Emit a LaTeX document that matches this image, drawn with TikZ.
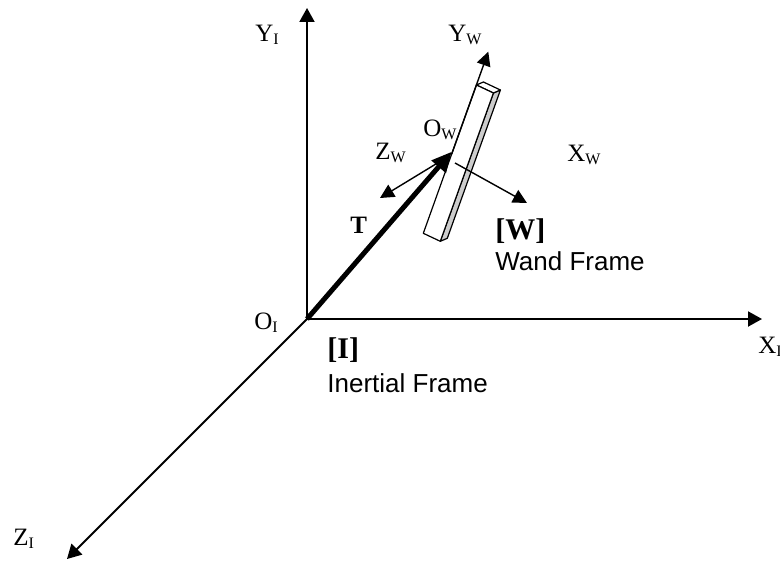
\documentclass[tikz,border=0pt]{standalone}
\usepackage{fontspec}
\setmainfont{Liberation Serif}
\newfontfamily\framefont{Liberation Sans}
\usetikzlibrary{arrows.meta}

\newcommand{\lowsub}[1]{\raisebox{-1.5pt}{\fontsize{8}{8}\selectfont #1}}

\begin{document}
\begin{tikzpicture}[x=0.5pt, y=-0.5pt,
    axis/.style={line width=1pt, -{Triangle[length=7pt,width=7.5pt]}},
    wandaxis/.style={line width=0.7pt, -{Triangle[length=7pt,width=7pt]}},
    wandface/.style={draw, line width=0.6pt, line join=round},
    lbl/.style={inner sep=0pt, anchor=base west, font=\fontsize{12.5}{14}\selectfont},
    frametag/.style={inner sep=0pt, anchor=base west, font=\fontsize{15}{17}\selectfont\bfseries},
    framename/.style={inner sep=0pt, anchor=base west, font=\fontsize{13}{15}\selectfont\framefont}]
  \useasboundingbox (0,0) rectangle (780,561);

  % inertial frame
  \coordinate (OI) at (307,319);
  \coordinate (YI) at (307,8);
  \coordinate (XI) at (762,319);
  \coordinate (ZI) at (67,559);
  \draw[axis] (OI) -- (YI);
  \draw[axis] (OI) -- (XI);
  \draw[axis] (OI) -- (ZI);

  % the wand
  \coordinate (wD) at (423.3,233.3);
  \coordinate (wA) at (476.4,85);
  \coordinate (wB) at (493.4,93);
  \coordinate (wC) at (440.3,241.3);
  \coordinate (wAb) at (483.4,82);
  \coordinate (wBb) at (500.4,90);
  \coordinate (wCb) at (447.3,238.3);
  \draw[wandface, fill=gray!40] (wB) -- (wBb) -- (wCb) -- (wC) -- cycle;
  \draw[wandface, fill=white] (wA) -- (wAb) -- (wBb) -- (wB) -- cycle;
  \draw[wandface, fill=white] (wD) -- (wA) -- (wB) -- (wC) -- cycle;

  % wand frame
  \coordinate (OW) at (451.7,151.7);
  \coordinate (ywstart) at (451.7,154);
  \coordinate (YW) at (488.3,51.7);
  \coordinate (zwstart) at (449,156);
  \coordinate (ZW) at (380,198);
  \coordinate (xwstart) at (455,163);
  \coordinate (XW) at (527,203);
  \draw[line width=2.5pt, -{Triangle[length=10pt,width=9pt]}] (OI) -- (OW);
  \draw[wandaxis] (ywstart) -- (YW);
  \draw[wandaxis] (zwstart) -- (ZW);
  \draw[wandaxis] (xwstart) -- (XW);

  % labels
  \node[lbl] (yilabel) at (255,42) {Y\lowsub{I}};
  \node[lbl] (oilabel) at (254,329) {O\lowsub{I}};
  \node[lbl] (xilabel) at (758,353) {X\lowsub{I}};
  \node[lbl] (zilabel) at (13,545) {Z\lowsub{I}};
  \node[lbl] (ywlabel) at (448,42) {Y\lowsub{W}};
  \node[lbl] (owlabel) at (423,137) {O\lowsub{W}};
  \node[lbl] (zwlabel) at (375,160) {Z\lowsub{W}};
  \node[lbl] (xwlabel) at (567,162) {X\lowsub{W}};
  \node[lbl, font=\fontsize{12.5}{14}\selectfont\bfseries] (tlabel) at (350,233) {T};

  \node[frametag] (wtag) at (495,239) {[W]};
  \node[framename] (wname) at (495,270) {Wand Frame};
  \node[frametag] (itag) at (327,358) {[I]};
  \node[framename] (iname) at (327,392) {Inertial Frame};
\end{tikzpicture}
\end{document}
